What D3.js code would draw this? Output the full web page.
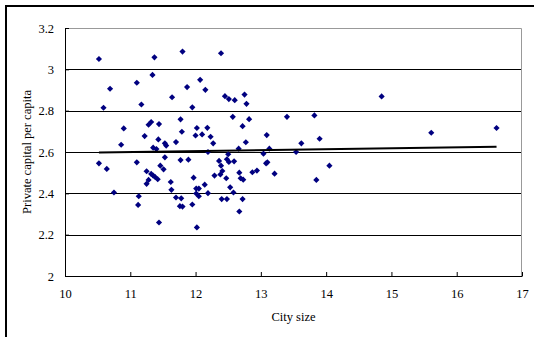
<!DOCTYPE html>
<html>
<head>
<meta charset="utf-8">
<script src="https://cdn.jsdelivr.net/npm/d3@7"></script>
<style>
  html, body { margin: 0; padding: 0; background: #fff; }
  svg { display: block; }
  text { font-family: "Liberation Serif", "Times New Roman", serif; fill: #000; }
</style>
</head>
<body>
<div id="chart"></div>
<script>
// city size (x) and private capital per capita (y)
const citySize = [
  10.52, 10.59, 10.69, 10.52, 10.64, 10.75, 10.90, 10.86, 11.10, 11.17,
  11.10, 11.13, 11.12, 11.22, 11.34, 11.37, 11.28, 11.32, 11.44, 11.43,
  11.35, 11.40, 11.25, 11.28, 11.25, 11.32, 11.35, 11.38, 11.42, 11.46,
  11.51, 11.53, 11.53, 11.55, 11.44, 11.64, 11.70, 11.62, 11.63, 11.70,
  11.77, 11.79, 11.77, 11.78, 11.76, 11.80, 11.80, 11.87, 11.95, 11.89,
  11.97, 11.95, 12.02, 12.01, 12.01, 12.05, 12.05, 12.02, 12.00, 12.10,
  12.07, 12.15, 12.18, 12.23, 12.27, 12.19, 12.14, 12.19, 12.39, 12.45,
  12.51, 12.60, 12.57, 12.36, 12.39, 12.41, 12.38, 12.29, 12.47, 12.50,
  12.48, 12.51, 12.59, 12.53, 12.58, 12.40, 12.48, 12.67, 12.67, 12.69,
  12.73, 12.72, 12.66, 12.72, 12.75, 12.78, 12.82, 12.77, 12.87, 12.94,
  13.04, 13.09, 13.13, 13.08, 13.10, 13.21, 13.40, 13.54, 13.62, 13.82,
  13.85, 13.90, 14.05, 14.85, 15.61, 16.61
];
const privateCapital = [
  3.050, 2.814, 2.906, 2.545, 2.518, 2.404, 2.714, 2.635, 2.935, 2.830,
  2.550, 2.386, 2.344, 2.677, 2.973, 3.058, 2.732, 2.745, 2.735, 2.661,
  2.621, 2.614, 2.507, 2.465, 2.446, 2.494, 2.486, 2.479, 2.468, 2.534,
  2.516, 2.574, 2.642, 2.631, 2.259, 2.865, 2.648, 2.455, 2.417, 2.380,
  2.758, 2.698, 2.561, 2.376, 2.338, 2.336, 3.086, 2.914, 2.816, 2.563,
  2.476, 2.346, 2.235, 2.423, 2.399, 2.423, 2.386, 2.716, 2.680, 2.685,
  2.949, 2.901, 2.717, 2.674, 2.642, 2.600, 2.442, 2.401, 3.078, 2.870,
  2.856, 2.851, 2.770, 2.557, 2.534, 2.508, 2.491, 2.486, 2.473, 2.589,
  2.565, 2.552, 2.555, 2.429, 2.404, 2.372, 2.372, 2.312, 2.500, 2.473,
  2.466, 2.372, 2.616, 2.725, 2.878, 2.833, 2.759, 2.647, 2.502, 2.510,
  2.592, 2.682, 2.616, 2.545, 2.550, 2.495, 2.770, 2.600, 2.642, 2.777,
  2.465, 2.664, 2.534, 2.869, 2.693, 2.716
];
// linear trend line end points
const trendX = [10.52, 16.61];
const trendY = [2.598, 2.626];

const xTicks = [10, 11, 12, 13, 14, 15, 16, 17];
const yTicks = [2, 2.2, 2.4, 2.6, 2.8, 3, 3.2];

const width = 534;
const height = 337;
const margin = { top: 28, right: 12, bottom: 61, left: 65 };
const plotW = width - margin.left - margin.right;
const plotH = height - margin.top - margin.bottom;

const svg = d3.select('#chart')
  .append('svg')
    .attr('width', width)
    .attr('height', height);

// outer frame (right and bottom edges run off the picture)
svg.append('rect')
  .attr('x', 6)
  .attr('y', 6)
  .attr('width', width + 10)
  .attr('height', height + 10)
  .attr('fill', '#fff')
  .attr('stroke', '#000')
  .attr('stroke-width', 2);

const g = svg.append('g')
  .attr('transform', `translate(${margin.left}, ${margin.top})`);

const xScale = d3.scaleLinear().domain([10, 17]).range([0, plotW]);
const yScale = d3.scaleLinear().domain([2, 3.2]).range([plotH, 0]);

// gridlines
g.append('g')
  .selectAll('line')
  .data(yTicks.filter(d => d > 2 && d < 3.2))
  .enter()
  .append('line')
    .attr('x1', 0)
    .attr('x2', plotW)
    .attr('y1', d => Math.round(yScale(d)) + 0.5)
    .attr('y2', d => Math.round(yScale(d)) + 0.5)
    .attr('stroke', '#000')
    .attr('stroke-width', 1);

// top and right plot border
g.append('path')
  .attr('d', `M0,0.5H${plotW - 0.5}V${plotH}`)
  .attr('fill', 'none')
  .attr('stroke', '#999')
  .attr('stroke-width', 1);

// axes
const xAxis = g.append('g')
  .attr('transform', `translate(0, ${plotH})`)
  .call(d3.axisBottom(xScale).tickValues(xTicks).tickSizeInner(-4).tickSizeOuter(0).tickPadding(13).tickFormat(d3.format('d')));

const yAxis = g.append('g')
  .call(d3.axisLeft(yScale).tickValues(yTicks).tickSizeInner(-4).tickSizeOuter(0).tickPadding(11).tickFormat(d => d3.format('')(+d.toFixed(1))));

[xAxis, yAxis].forEach(ax => {
  ax.select('.domain').attr('stroke', '#000');
  ax.selectAll('.tick line').attr('stroke', '#000');
  ax.selectAll('text')
    .attr('font-family', '"Liberation Serif", "Times New Roman", serif')
    .attr('font-size', 12.5)
    .attr('fill', '#000');
});

// scatter points as small diamonds
const points = citySize.map((x, i) => ({ x, y: privateCapital[i] }));
g.append('g')
  .selectAll('path')
  .data(points)
  .enter()
  .append('path')
    .attr('d', d3.symbol().type(d3.symbolSquare).size(19))
    .attr('transform', d => `translate(${xScale(d.x)}, ${yScale(d.y)}) rotate(45)`)
    .attr('fill', '#000080');

// trend line
const trend = trendX.map((x, i) => ({ x, y: trendY[i] }));
g.append('path')
  .datum(trend)
  .attr('d', d3.line().x(d => xScale(d.x)).y(d => yScale(d.y)))
  .attr('fill', 'none')
  .attr('stroke', '#000')
  .attr('stroke-width', 2);

// axis titles
svg.append('text')
  .attr('x', margin.left + plotW / 2)
  .attr('y', 321)
  .attr('text-anchor', 'middle')
  .attr('font-size', 12.5)
  .text('City size');

svg.append('text')
  .attr('transform', `translate(31, ${margin.top + plotH / 2}) rotate(-90)`)
  .attr('text-anchor', 'middle')
  .attr('font-size', 12.5)
  .text('Private capital per capita');
</script>
</body>
</html>
